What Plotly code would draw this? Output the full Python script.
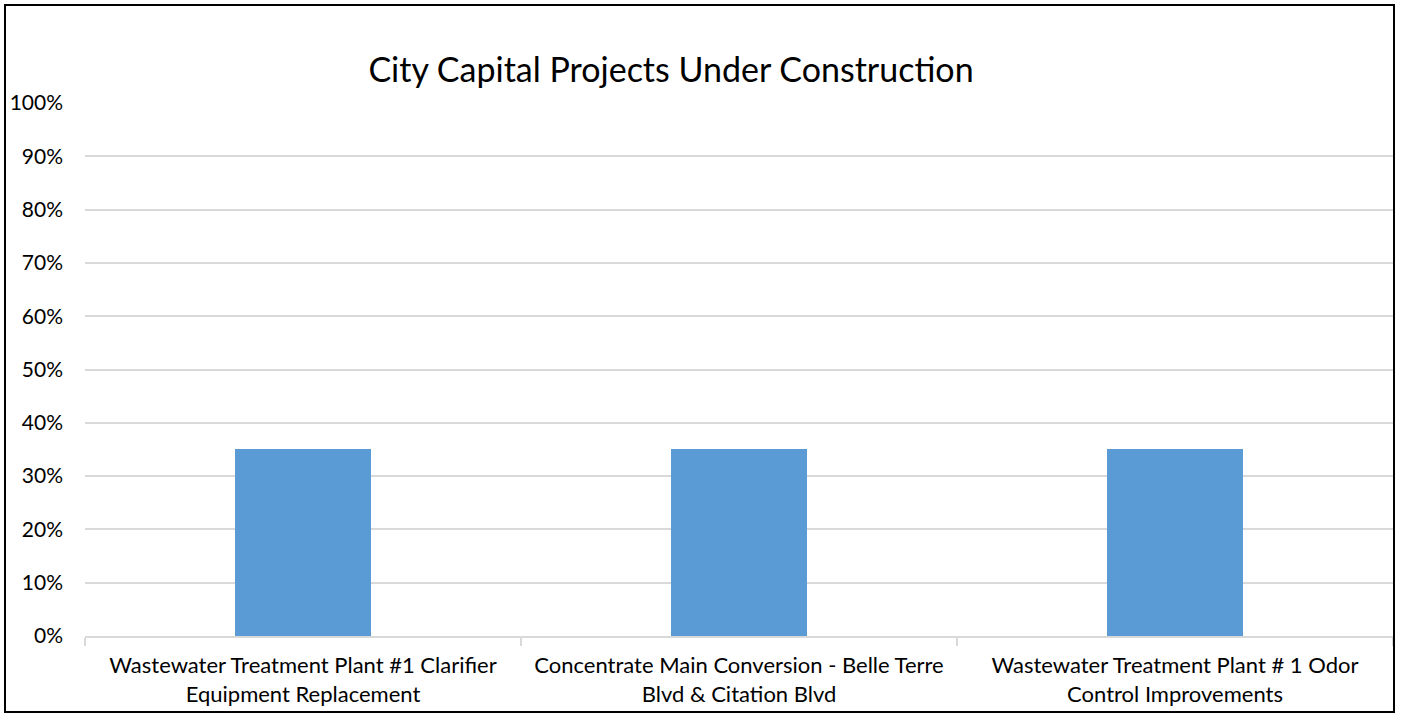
import plotly.graph_objects as go

categories = [
    "Wastewater Treatment Plant #1 Clarifier<br>Equipment Replacement",
    "Concentrate Main Conversion - Belle Terre<br>Blvd & Citation Blvd",
    "Wastewater Treatment Plant # 1 Odor<br>Control Improvements",
]
percent_complete = [0.35, 0.35, 0.35]
ytick_vals = [0, 0.1, 0.2, 0.3, 0.4, 0.5, 0.6, 0.7, 0.8, 0.9, 1.0]
ytick_text = ["0%", "10%", "20%", "30%", "40%", "50%", "60%", "70%", "80%", "90%", "100%"]

W, H = 1401, 714
L, R, T, B = 85, 8, 103, 78
pw, ph = W - L - R, H - T - B

def px_x(x):
    return (x - L) / pw

def px_y(y):
    return (H - B - y) / ph

font_family = "Lato, Carlito, Calibri, sans-serif"

fig = go.Figure(
    go.Bar(
        x=categories,
        y=percent_complete,
        marker=dict(color="#5B9BD5", line=dict(width=0)),
        width=0.314,
    )
)

fig.update_layout(
    width=W,
    height=H,
    margin=dict(l=L, r=R, t=T, b=B),
    paper_bgcolor="white",
    plot_bgcolor="white",
    showlegend=False,
    font=dict(family=font_family, color="#000000", size=22),
    title=dict(
        text="City Capital Projects Under Construction",
        x=px_x(671),
        xref="paper",
        xanchor="center",
        y=1 - 70 / H,
        yref="container",
        yanchor="middle",
        font=dict(size=34, family=font_family, color="#000000"),
    ),
    bargap=0,
)

fig.update_xaxes(
    showgrid=False,
    showline=True,
    linecolor="#d9d9d9",
    linewidth=1.5,
    ticks="outside",
    tickson="boundaries",
    ticklen=8,
    tickwidth=1.5,
    tickcolor="#d9d9d9",
    ticklabelstandoff=9,
    tickfont=dict(size=22, family=font_family, color="#000000"),
    range=[-0.5, 2.5],
    fixedrange=True,
)

fig.update_yaxes(
    range=[0, 1.0],
    tickvals=ytick_vals,
    ticktext=ytick_text,
    showgrid=True,
    gridcolor="#d9d9d9",
    gridwidth=1.5,
    zeroline=False,
    showline=False,
    ticks="",
    ticklabelstandoff=21,
    tickfont=dict(size=21, family=font_family, color="#000000"),
    fixedrange=True,
)

fig.add_shape(
    type="rect",
    xref="paper",
    yref="paper",
    x0=px_x(5),
    x1=px_x(1394),
    y0=px_y(712),
    y1=px_y(5),
    line=dict(color="#000000", width=2),
    fillcolor="rgba(0,0,0,0)",
    layer="above",
)

fig.write_html(
    "out.html",
    config={"displayModeBar": False},
    post_script="document.body.style.margin='0';document.body.style.overflow='hidden';",
)
